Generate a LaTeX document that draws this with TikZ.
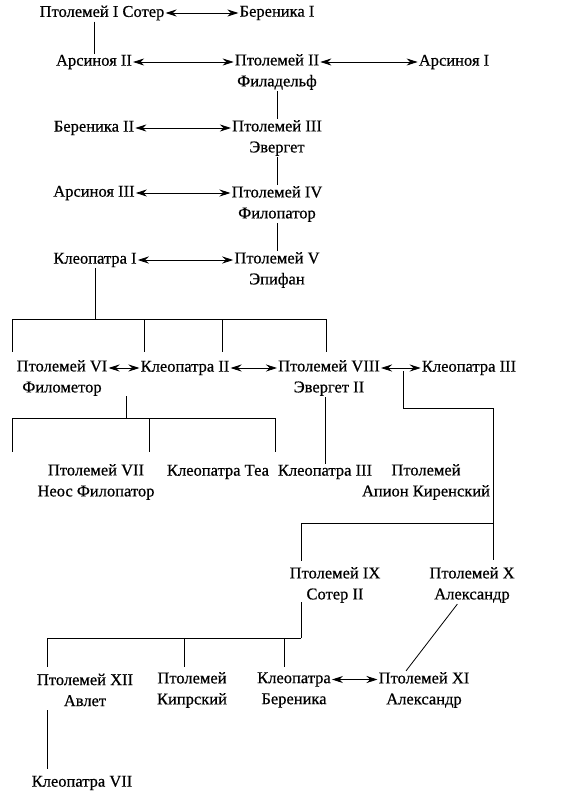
\documentclass[tikz,border=0pt]{standalone}
\usepackage{fontspec}
\setmainfont[FakeBold=0.6]{Liberation Serif}
\usetikzlibrary{arrows.meta,positioning}

\begin{document}
\begin{tikzpicture}[
  x=1pt, y=-1pt,
  every node/.style={font=\fontsize{16.5}{21}\selectfont},
  person/.style={inner xsep=1pt, inner ysep=1pt, align=center},
  marriage/.style={{Stealth[length=11pt,width=7pt]}-{Stealth[length=11pt,width=7pt]}, line width=0.8pt},
  lineage/.style={line width=0.8pt}
]
  \useasboundingbox (0,0) rectangle (565,800);

  % --- Generations I--V ---
  \node[person] (ptolI)    at (102,13)  {Птолемей I Сотер};
  \node[person] (bereI)    at (277,13)  {Береника I};
  \node[person] (arsII)    at (94,62)   {Арсиноя II};
  \node[person] (ptolII)   at (277,72)  {Птолемей II\\Филадельф};
  \node[person] (arsI)     at (454,62)  {Арсиноя I};
  \node[person] (bereII)   at (94,128)  {Береника II};
  \node[person] (ptolIII)  at (277,138) {Птолемей III\\Эвергет};
  \node[person] (arsIII)   at (94,193)  {Арсиноя III};
  \node[person] (ptolIV)   at (277,204) {Птолемей IV\\Филопатор};
  \node[person] (kleoI)    at (95,260)  {Клеопатра I};
  \node[person] (ptolV)    at (277,270) {Птолемей V\\Эпифан};

  % --- Children of Ptolemy V ---
  \node[person] (ptolVI)   at (62,378)  {Птолемей VI\\Филометор};
  \node[person] (kleoII)   at (185,368) {Клеопатра II};
  \node[person] (ptolVIII) at (329,378) {Птолемей VIII\\Эвергет II};
  \node[person] (kleoIIIa) at (469,368) {Клеопатра III};

  % --- Next generation ---
  \node[person] (ptolVII)  at (96,482)  {Птолемей VII\\Неос Филопатор};
  \node[person] (kleoTea)  at (218,472) {Клеопатра Теа};
  \node[person] (kleoIIIb) at (325,472) {Клеопатра III};
  \node[person] (apion)    at (426,482) {Птолемей\\Апион Киренский};
  \node[person] (ptolIX)   at (335,585) {Птолемей IX\\Сотер II};
  \node[person] (ptolX)    at (472,585) {Птолемей X\\Александр};
  \node[person] (ptolXII)  at (85,690)  {Птолемей XII\\Авлет};
  \node[person] (kipr)     at (192,690) {Птолемей\\Кипрский};
  \node[person] (kleoBer)  at (294,690) {Клеопатра\\Береника};
  \node[person] (ptolXI)   at (424,690) {Птолемей XI\\Александр};
  \node[person] (kleoVII)  at (82,783)  {Клеопатра VII};

  % --- Marriages ---
  \draw[marriage] (ptolI) -- (bereI);
  \draw[marriage] (arsII) -- (arsII -| ptolII.west);
  \draw[marriage] (ptolII.east |- arsI) -- (arsI);
  \draw[marriage] (bereII) -- (bereII -| ptolIII.west);
  \draw[marriage] (arsIII) -- (arsIII -| ptolIV.west);
  \draw[marriage] (kleoI) -- (kleoI -| ptolV.west);
  \draw[marriage] (kleoII -| ptolVI.east) -- (kleoII);
  \draw[marriage] (kleoII) -- (kleoII -| ptolVIII.west);
  \draw[marriage] (ptolVIII.east |- kleoIIIa) -- (kleoIIIa);
  \draw[marriage] ([yshift=10.5pt]kleoBer.east) -- ([yshift=10.5pt]ptolXI.west);

  % --- Descent ---
  \draw[lineage] (ptolI.south -| arsII) -- (arsII);
  \draw[lineage] (ptolII) -- (ptolIII);
  \draw[lineage] (ptolIII) -- (ptolIV);
  \draw[lineage] (ptolIV) -- (ptolV);

  \coordinate (barV) at (95,319);
  \draw[lineage] (kleoI) -- (barV);
  \draw[lineage] (12,319) -- (326,319);
  \foreach \x in {12,144,222,326}
    \draw[lineage] (\x,319) -- (\x,352);

  \coordinate (barVI) at (126,418);
  \draw[lineage] (126,396) -- (barVI);
  \draw[lineage] (12,418) -- (275,418);
  \foreach \x in {12,149,275}
    \draw[lineage] (\x,418) -- (\x,452);

  \draw[lineage] (ptolVIII.south -| kleoIIIb) -- (kleoIIIb);

  \coordinate (barVIII) at (493,523);
  \draw[lineage] (403,371) |- (493,408) -- (493,560);
  \draw[lineage] (barVIII) -| (301,561);

  \coordinate (barIX) at (301,638);
  \draw[lineage] (301,602) -- (barIX);
  \draw[lineage] (47,638) -- (barIX);
  \foreach \x in {47,184,284}
    \draw[lineage] (\x,638) -- (\x,667);

  \draw[lineage] (ptolX) -- ([xshift=-18pt]ptolXI.north);
  \draw[lineage] (47,710) -- (47,769);

\end{tikzpicture}
\end{document}
